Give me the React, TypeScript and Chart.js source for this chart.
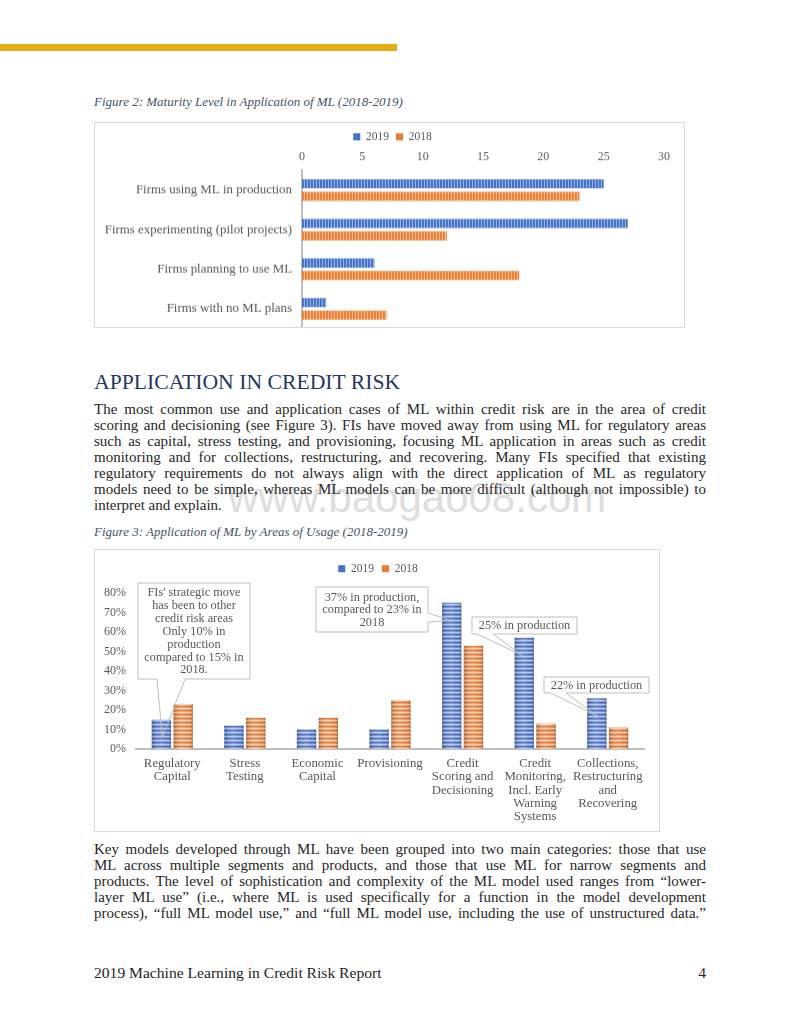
import React, { useEffect, useRef } from "react";
import { Chart, registerables } from "chart.js";

Chart.register(...registerables);

// ---------- DATA ----------
const seriesLabels = ["2019", "2018"];

const maturityCategories = [
  "Firms using ML in production",
  "Firms experimenting (pilot projects)",
  "Firms planning to use ML",
  "Firms with no ML plans",
];
const maturity2019 = [25, 27, 6, 2];
const maturity2018 = [23, 12, 18, 7];
const maturityAxisMin = 0;
const maturityAxisMax = 30;
const maturityAxisStep = 5;

const usageCategories = [
  ["Regulatory", "Capital"],
  ["Stress", "Testing"],
  ["Economic", "Capital"],
  ["Provisioning"],
  ["Credit", "Scoring and", "Decisioning"],
  ["Credit", "Monitoring,", "Incl. Early", "Warning", "Systems"],
  ["Collections,", "Restructuring", "and", "Recovering"],
];
const usage2019 = [15, 12, 10, 10, 75, 57, 26];
const usage2018 = [23, 16, 16, 25, 53, 13, 11];
const usageAxisMax = 80;
const usageAxisStep = 10;

const calloutTexts = [
  ["FIs' strategic move", "has been to other", "credit risk areas", "Only 10% in", "production", "compared to 15% in", "2018."],
  ["37% in production,", "compared to 23% in", "2018"],
  ["25% in production"],
  ["22% in production"],
];
const calloutCategory = [0, 4, 5, 6];
const calloutTipValue = [6, 66, 48, 17];

// ---------- STYLE ----------
const SERIF = "'Liberation Serif', 'Times New Roman', serif";
const GRAY = "#595959";
const BLUE = "#4472C4";
const ORANGE = "#ED7D31";

const calloutLayout = [
  { box: [43, 33, 155, 129], side: "bottom", base: [62, 90], tipDx: 1, lineH: 12.9 },
  { box: [221, 37, 333, 82], side: "right", base: [63, 72], tipDx: -1, lineH: 12.7 },
  { box: [377, 67, 482, 84], side: "bottom", base: [382, 398], tipDx: -2, lineH: 13 },
  { box: [449, 127, 554, 143], side: "bottom", base: [456, 471], tipDx: 0, lineH: 13 },
];

function makeStripe(ctx: CanvasRenderingContext2D, colors: string[], vertical: boolean) {
  const c = document.createElement("canvas");
  c.width = vertical ? colors.length : 1;
  c.height = vertical ? 1 : colors.length;
  const g = c.getContext("2d")!;
  colors.forEach((col, i) => {
    g.fillStyle = col;
    if (vertical) g.fillRect(i, 0, 1, 1);
    else g.fillRect(0, i, 1, 1);
  });
  return ctx.createPattern(c, "repeat")!;
}

// fixes the legend's height and shifts its drawing horizontally
const legendTweakPlugin = (h: number, dx: number) => ({
  id: "legendTweak",
  beforeInit(chart: any) {
    const legend = chart.legend;
    if (!legend) return;
    const origFit = legend.fit;
    legend.fit = function () {
      origFit.call(this);
      this.height = h;
    };
    const origDraw = legend.draw;
    legend.draw = function () {
      const ctx = this.ctx;
      ctx.save();
      ctx.translate(dx, 0);
      origDraw.call(this);
      ctx.restore();
    };
  },
});

const solidLegendLabels = (chart: any) =>
  (Chart.defaults.plugins.legend.labels as any).generateLabels(chart).map((l: any, i: number) => ({
    ...l,
    fillStyle: i === 0 ? BLUE : ORANGE,
    strokeStyle: i === 0 ? BLUE : ORANGE,
    lineWidth: 0,
  }));

const cylinderPlugin = {
  id: "cylinder",
  afterDatasetsDraw(chart: any) {
    const ctx = chart.ctx;
    chart.data.datasets.forEach((_d: any, di: number) => {
      const meta = chart.getDatasetMeta(di);
      meta.data.forEach((bar: any) => {
        const { x, y, base, width } = bar.getProps(["x", "y", "base", "width"], true);
        const l = x - width / 2;
        const g = ctx.createLinearGradient(l, 0, l + width, 0);
        g.addColorStop(0, "rgba(0,0,0,0.22)");
        g.addColorStop(0.3, "rgba(255,255,255,0.10)");
        g.addColorStop(0.5, "rgba(255,255,255,0.18)");
        g.addColorStop(0.75, "rgba(255,255,255,0.02)");
        g.addColorStop(1, "rgba(0,0,0,0.25)");
        ctx.save();
        ctx.fillStyle = g;
        ctx.fillRect(l, y, width, base - y);
        ctx.restore();
      });
    });
  },
};

const calloutPlugin = {
  id: "callouts",
  afterDraw(chart: any) {
    const ctx = chart.ctx;
    const meta = chart.getDatasetMeta(0);
    const yScale = chart.scales.y;
    calloutTexts.forEach((lines, i) => {
      const lay = calloutLayout[i];
      const bar = meta.data[calloutCategory[i]];
      const tx = bar.x + lay.tipDx;
      const ty = yScale.getPixelForValue(calloutTipValue[i]);
      const [x1, y1, x2, y2] = lay.box;
      ctx.save();
      ctx.fillStyle = "#ffffff";
      ctx.fillRect(x1, y1, x2 - x1, y2 - y1);
      ctx.beginPath();
      ctx.moveTo(x1, y1);
      ctx.lineTo(x2, y1);
      if (lay.side === "right") {
        ctx.lineTo(x2, lay.base[0]);
        ctx.lineTo(tx, ty);
        ctx.lineTo(x2, lay.base[1]);
        ctx.lineTo(x2, y2);
        ctx.lineTo(x1, y2);
      } else {
        ctx.lineTo(x2, y2);
        ctx.lineTo(lay.base[1], y2);
        ctx.lineTo(tx, ty);
        ctx.lineTo(lay.base[0], y2);
        ctx.lineTo(x1, y2);
      }
      ctx.closePath();
      ctx.strokeStyle = "#BFBFBF";
      ctx.lineWidth = 1;
      ctx.stroke();
      ctx.fillStyle = GRAY;
      ctx.font = `12.3px ${SERIF}`;
      ctx.textAlign = "center";
      ctx.textBaseline = "middle";
      const cx = (x1 + x2) / 2;
      const cy = (y1 + y2) / 2;
      const start = cy - ((lines.length - 1) * lay.lineH) / 2;
      lines.forEach((t, k) => ctx.fillText(t, cx, start + k * lay.lineH + 0.5));
      ctx.restore();
    });
  },
};

const body1 = [
  "The most common use and application cases of ML within credit risk are in the area of credit",
  "scoring and decisioning (see Figure 3). FIs have moved away from using ML for regulatory areas",
  "such as capital, stress testing, and provisioning, focusing ML application in areas such as credit",
  "monitoring and for collections, restructuring, and recovering. Many FIs specified that existing",
  "regulatory requirements do not always align with the direct application of ML as regulatory",
  "models need to be simple, whereas ML models can be more difficult (although not impossible) to",
  "interpret and explain.",
];
const body2 = [
  "Key models developed through ML have been grouped into two main categories: those that use",
  "ML across multiple segments and products, and those that use ML for narrow segments and",
  "products. The level of sophistication and complexity of the ML model used ranges from \u201clower-",
  "layer ML use\u201d (i.e., where ML is used specifically for a function in the model development",
  "process), \u201cfull ML model use,\u201d and \u201cfull ML model use, including the use of unstructured data.\u201d",
];

function Para({ lines, top, justifyLast }: { lines: string[]; top: number; justifyLast: boolean }) {
  return (
    <div style={{ position: "absolute", left: 94, top, width: 612, fontSize: 15, lineHeight: "16px", color: "#262626", zIndex: 2 }}>
      {lines.map((l, i) => {
        const j = i < lines.length - 1 || justifyLast;
        return (
          <div
            key={i}
            style={{ textAlign: j ? "justify" : "left", textAlignLast: j ? "justify" : "left", whiteSpace: "nowrap" } as any}
          >
            {l}
          </div>
        );
      })}
    </div>
  );
}

export default function App() {
  const c1 = useRef<HTMLCanvasElement>(null);
  const c2 = useRef<HTMLCanvasElement>(null);

  useEffect(() => {
    const ctx1 = c1.current!.getContext("2d")!;
    const ctx2 = c2.current!.getContext("2d")!;

    const ch1 = new Chart(ctx1, {
      type: "bar",
      data: {
        labels: maturityCategories,
        datasets: [
          {
            label: seriesLabels[0],
            data: maturity2019,
            backgroundColor: makeStripe(ctx1, ["#4472C4", "#4A78CB", "#94AFE4"], true) as any,
            categoryPercentage: 0.63,
            barPercentage: 0.73,
          },
          {
            label: seriesLabels[1],
            data: maturity2018,
            backgroundColor: makeStripe(ctx1, ["#ED7D31", "#EF8640", "#F7B88C"], true) as any,
            categoryPercentage: 0.63,
            barPercentage: 0.73,
          },
        ],
      },
      options: {
        indexAxis: "y",
        responsive: true,
        maintainAspectRatio: false,
        animation: false,
        layout: { padding: { top: 1, right: 20, left: 0, bottom: 0 } },
        plugins: {
          legend: {
            position: "top",
            labels: {
              boxWidth: 7,
              boxHeight: 7,
              padding: 7,
              color: GRAY,
              font: { family: SERIF, size: 11.5 },
              generateLabels: solidLegendLabels,
            },
          },
          tooltip: { enabled: false },
        },
        scales: {
          x: {
            position: "top",
            min: maturityAxisMin,
            max: maturityAxisMax,
            ticks: { stepSize: maturityAxisStep, color: GRAY, font: { family: SERIF, size: 12 }, padding: 6 },
            grid: { display: false, drawTicks: false },
            border: { display: false },
            afterFit: (s: any) => {
              s.height = 18.5;
            },
          },
          y: {
            grid: { display: false, drawTicks: false },
            border: { color: "#BFBFBF", width: 2 },
            ticks: { color: GRAY, font: { family: SERIF, size: 12.9 }, padding: 10, autoSkip: false },
            afterFit: (s: any) => {
              s.width = 207;
            },
          },
        },
      } as any,
      plugins: [legendTweakPlugin(27.5, 13)],
    });

    const ch2 = new Chart(ctx2, {
      type: "bar",
      data: {
        labels: usageCategories,
        datasets: [
          {
            label: seriesLabels[0],
            data: usage2019,
            backgroundColor: makeStripe(ctx2, ["#4468B4", "#6A8BD3", "#B2C5EE", "#7A98DA"], false) as any,
            categoryPercentage: 0.6,
            barPercentage: 0.89,
          },
          {
            label: seriesLabels[1],
            data: usage2018,
            backgroundColor: makeStripe(ctx2, ["#D4722F", "#EE9560", "#F9CBA8", "#F0A06E"], false) as any,
            categoryPercentage: 0.6,
            barPercentage: 0.89,
          },
        ],
      },
      options: {
        responsive: true,
        maintainAspectRatio: false,
        animation: false,
        layout: { padding: { top: 5, right: 15, left: 0, bottom: 0 } },
        plugins: {
          legend: {
            position: "top",
            labels: {
              boxWidth: 7,
              boxHeight: 7,
              padding: 8,
              color: GRAY,
              font: { family: SERIF, size: 11.5 },
              generateLabels: solidLegendLabels,
            },
          },
          tooltip: { enabled: false },
        },
        scales: {
          x: {
            grid: { display: false, drawTicks: false },
            border: { color: "#BFBFBF", width: 2 },
            ticks: {
              color: GRAY,
              font: { family: SERIF, size: 12.8, lineHeight: 1.04 },
              padding: 8,
              autoSkip: false,
              maxRotation: 0,
              minRotation: 0,
            },
            afterFit: (s: any) => {
              s.height = 82;
            },
          },
          y: {
            min: 0,
            max: usageAxisMax,
            ticks: {
              stepSize: usageAxisStep,
              color: GRAY,
              font: { family: SERIF, size: 12 },
              padding: 10,
              callback: (v: any) => v + "%",
            },
            grid: { display: false, drawTicks: false },
            border: { display: false },
            afterFit: (s: any) => {
              s.width = 41;
            },
          },
        },
      } as any,
      plugins: [legendTweakPlugin(38, 8.5), cylinderPlugin, calloutPlugin],
    });

    return () => {
      ch1.destroy();
      ch2.destroy();
    };
  }, []);

  const caption: React.CSSProperties = {
    position: "absolute",
    left: 94,
    fontSize: 13,
    lineHeight: "16px",
    fontStyle: "italic",
    color: "#44546A",
    whiteSpace: "nowrap",
  };

  return (
    <div
      style={{
        position: "absolute",
        left: 0,
        top: 0,
        width: 800,
        height: 1036,
        background: "#ffffff",
        fontFamily: SERIF,
        overflow: "hidden",
      }}
    >
      <div style={{ position: "absolute", left: 0, top: 44, width: 397, height: 7, background: "#E6AC12" }} />
      <div style={{ ...caption, top: 94 }}>Figure 2: Maturity Level in Application of ML (2018-2019)</div>

      <div
        style={{
          position: "absolute",
          left: 94,
          top: 122,
          width: 589,
          height: 204,
          border: "1px solid #D9D9D9",
          overflow: "hidden",
        }}
      >
        <div style={{ position: "relative", width: 589, height: 222.5 }}>
          <canvas ref={c1} />
        </div>
      </div>

      <div
        style={{
          position: "absolute",
          left: 94,
          top: 369,
          fontSize: 21.7,
          lineHeight: "26px",
          color: "#1F3864",
          whiteSpace: "nowrap",
        }}
      >
        APPLICATION IN CREDIT RISK
      </div>

      <div
        style={{
          position: "absolute",
          left: 228,
          top: 474,
          fontFamily: "'Liberation Sans', Arial, sans-serif",
          fontSize: 42,
          lineHeight: "48px",
          color: "#DEDEDE",
          whiteSpace: "nowrap",
          zIndex: 1,
        }}
      >
        www.baogao08.com
      </div>

      <Para lines={body1} top={401} justifyLast={false} />

      <div style={{ ...caption, top: 524 }}>Figure 3: Application of ML by Areas of Usage (2018-2019)</div>

      <div
        style={{
          position: "absolute",
          left: 94,
          top: 549,
          width: 564,
          height: 281,
          border: "1px solid #D9D9D9",
        }}
      >
        <div style={{ position: "relative", width: 564, height: 281 }}>
          <canvas ref={c2} />
        </div>
      </div>

      <Para lines={body2} top={841} justifyLast={true} />

      <div
        style={{
          position: "absolute",
          left: 94,
          top: 964,
          fontSize: 15.6,
          lineHeight: "18px",
          color: "#262626",
          whiteSpace: "nowrap",
        }}
      >
        2019 Machine Learning in Credit Risk Report
      </div>
      <div
        style={{
          position: "absolute",
          left: 600,
          width: 106,
          top: 964,
          fontSize: 15.6,
          lineHeight: "18px",
          color: "#262626",
          textAlign: "right",
        }}
      >
        4
      </div>
    </div>
  );
}
